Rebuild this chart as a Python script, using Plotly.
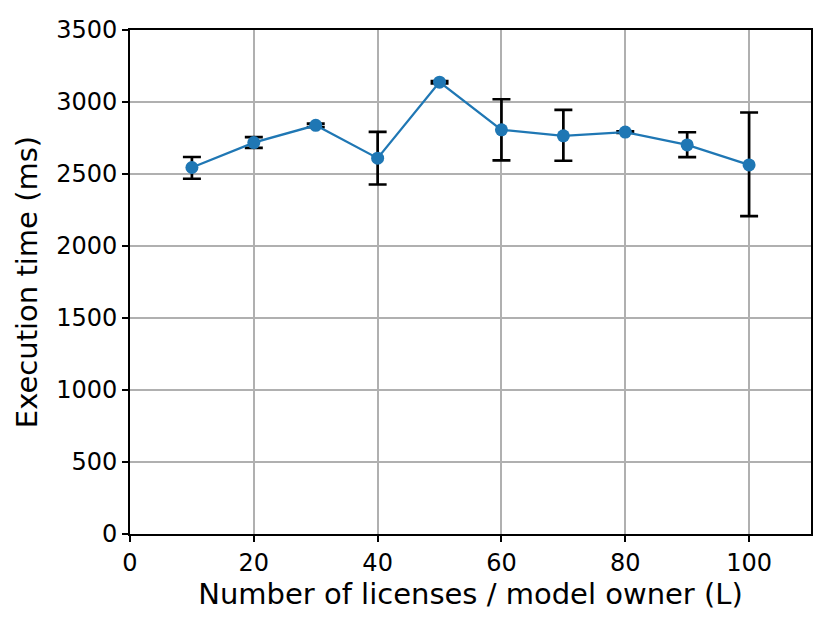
import plotly.graph_objects as go

licenses = [10, 20, 30, 40, 50, 60, 70, 80, 90, 100]
exec_time = [2545, 2718, 2838, 2610, 3138, 2807, 2765, 2791, 2702, 2563]
err_plus = [73, 38, 12, 182, 8, 212, 180, 6, 88, 364]
err_minus = [78, 37, 12, 183, 8, 213, 173, 6, 85, 356]

fig = go.Figure()
fig.add_trace(go.Scatter(
    x=licenses, y=exec_time, mode="lines+markers",
    line=dict(color="#1f77b4", width=2.3),
    marker=dict(color="#1f77b4", size=13),
    error_y=dict(type="data", symmetric=False, array=err_plus, arrayminus=err_minus,
                 color="black", thickness=2.7, width=9),
    showlegend=False,
))

axis_common = dict(
    showline=True, linecolor="black", linewidth=1.6, mirror=True,
    showgrid=True, gridcolor="#b0b0b0", gridwidth=1.5,
    ticks="outside", ticklen=6, tickwidth=1.6, tickcolor="black",
    zeroline=False,
    tickfont=dict(size=24, color="black"),
)

fig.update_layout(
    width=830, height=623,
    paper_bgcolor="white", plot_bgcolor="white",
    font=dict(family="DejaVu Sans", color="black"),
    margin=dict(l=130, r=19, t=30, b=89),
    xaxis=dict(range=[0, 110], dtick=20, tick0=0,
               title=dict(text="Number of licenses / model owner (L)", font=dict(size=29), standoff=4),
               **axis_common),
    yaxis=dict(range=[0, 3500], dtick=500, tick0=0,
               title=dict(text="Execution time (ms)", font=dict(size=29), standoff=10),
               **axis_common),
)

fig.write_html("out.html", config={"displayModeBar": False},
               post_script="document.body.style.margin='0';")
